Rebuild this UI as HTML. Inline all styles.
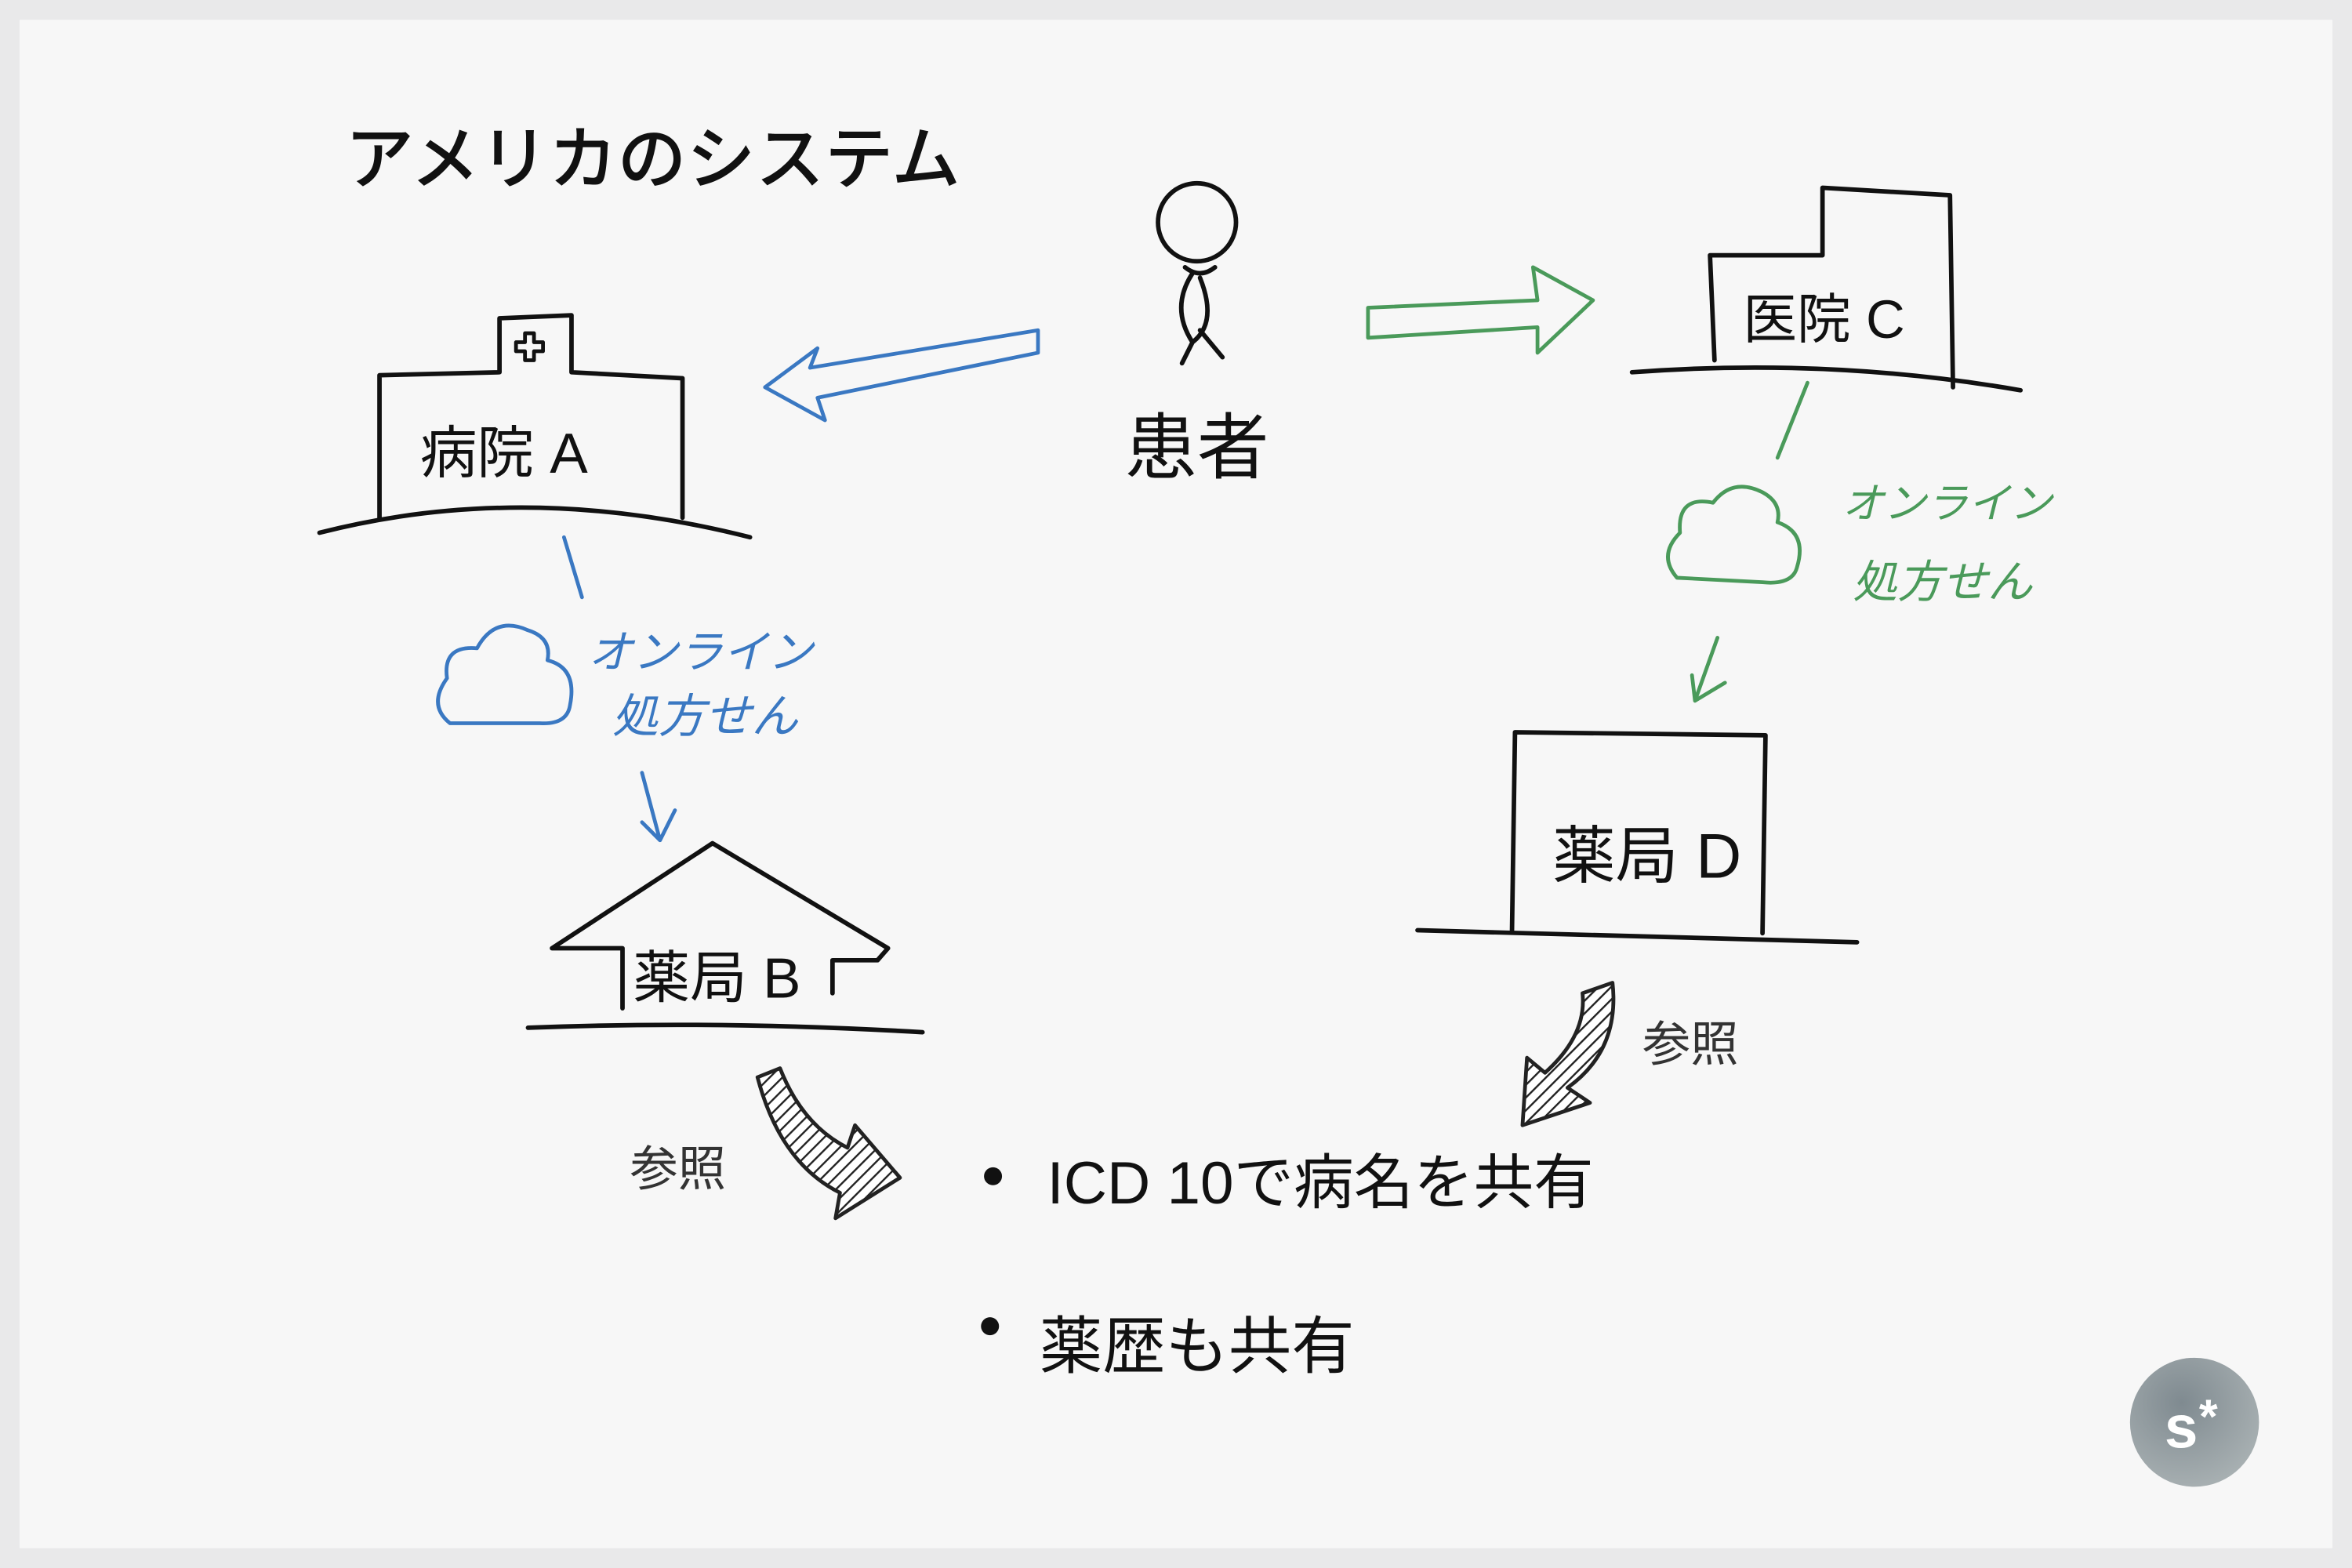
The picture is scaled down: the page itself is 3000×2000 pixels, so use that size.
<!DOCTYPE html>
<html><head><meta charset="utf-8"><style>
html,body{margin:0;padding:0;background:#e9e9ea;}
svg{display:block;}
text{font-family:"Liberation Sans","Noto Sans CJK JP",sans-serif;}
</style></head><body>
<svg width="3000" height="2000" viewBox="0 0 1568 1045" xmlns="http://www.w3.org/2000/svg">
<defs>
<pattern id="h" width="6" height="6" patternUnits="userSpaceOnUse" patternTransform="rotate(45)"><rect width="6" height="6" fill="#fff"/><line x1="0" y1="0" x2="0" y2="6" stroke="#222" stroke-width="2.5"/></pattern>
<radialGradient id="g" cx="0.4" cy="0.35" r="0.7"><stop offset="0" stop-color="#7f8a90"/><stop offset="1" stop-color="#a9b1b3"/></radialGradient>
</defs>
<rect width="1568" height="1045" fill="#e9e9ea"/>
<rect x="13" y="13" width="1542" height="1019" fill="#f7f7f7"/>
<text x="230" y="122" font-size="46" font-weight="500" fill="#111">アメリカのシステム</text>
<g fill="none" stroke="#111" stroke-width="3" stroke-linecap="round" stroke-linejoin="round">
<circle cx="798" cy="148" r="26"/>
<path d="M790 178 Q800 186 810 178 M795 182 Q780 205 795 228 Q812 215 800 185 M795 228 L788 242 M800 220 L815 238"/>
<path d="M253 345 L253 250 L333 248 L333 212 L381 210 L381 248 L455 252 L455 345"/>
<path d="M350 222 h6 v6 h6 v6 h-6 v6 h-6 v-6 h-6 v-6 h6 z" stroke-width="2.5"/>
<path d="M213 355 Q350 320 500 358"/>
<path d="M1143 240 L1140 170 L1215 170 L1215 125 L1300 130 L1302 258"/>
<path d="M1088 248 Q1220 238 1347 260"/>
<path d="M368 632 L475 562 L592 632 L585 640 L555 640 M368 632 L415 632 L415 672 M555 640 L555 662"/>
<path d="M352 685 Q480 680 615 688"/>
<path d="M1008 620 L1010 488 L1177 490 L1175 622"/>
<path d="M945 620 L1238 628"/>
</g>
<g fill="none" stroke="#3a78c2" stroke-width="2.5" stroke-linecap="round" stroke-linejoin="round">
<path d="M692 220 L540 245 L545 232 L510 258 L550 280 L545 265 L692 235 Z"/>
<path d="M376 358 L388 398"/>
<path d="M300 482 Q285 470 298 452 Q295 430 318 432 Q330 410 352 420 Q368 425 365 440 Q385 445 380 470 Q378 483 360 482 Z"/>
<path d="M428 515 L440 560 M428 548 L440 560 L450 540"/>
</g>
<text x="392" y="445" font-size="30" fill="#3a78c2" font-style="italic">オンライン</text>
<text x="408" y="488" font-size="31" fill="#3a78c2" font-style="italic">処方せん</text>
<g fill="none" stroke="#4a9a5a" stroke-width="2.5" stroke-linecap="round" stroke-linejoin="round">
<path d="M912 205 L1025 200 L1022 178 L1062 200 L1025 235 L1025 218 L912 225 Z"/>
<path d="M1205 255 L1185 305"/>
<path d="M1118 385 Q1105 370 1120 355 Q1118 330 1142 335 Q1155 318 1175 328 Q1188 335 1185 348 Q1205 355 1198 378 Q1195 390 1175 388 Z"/>
<path d="M1145 425 L1130 467 M1128 450 L1130 467 L1150 455"/>
</g>
<text x="1228" y="345" font-size="28" fill="#4a9a5a" font-style="italic">オンライン</text>
<text x="1235" y="398" font-size="30" fill="#4a9a5a" font-style="italic">処方せん</text>
<g fill="#111">
<text x="750" y="315" font-size="48">患者</text>
<text x="280" y="315" font-size="38">病院 A</text>
<text x="1162" y="225" font-size="36">医院 C</text>
<text x="422" y="665" font-size="38">薬局 B</text>
<text x="1035" y="585" font-size="42">薬局 D</text>
<text x="420" y="790" font-size="32" fill="#333">参照</text>
<text x="1095" y="707" font-size="32" fill="#333">参照</text>
<circle cx="662" cy="784" r="6"/>
<text x="698" y="802" font-size="40">ICD 10で病名を共有</text>
<circle cx="660" cy="884" r="6"/>
<text x="693" y="912" font-size="42">薬歴も共有</text>
</g>
<path d="M505 718 L520 712 Q535 750 565 765 L570 750 L600 785 L557 812 L560 795 Q520 775 505 718 Z" fill="url(#h)" stroke="#222" stroke-width="2.5" stroke-linejoin="round"/>
<path d="M1055 662 L1075 655 Q1080 700 1045 725 L1060 735 L1015 750 L1018 705 L1030 715 Q1058 690 1055 662 Z" fill="url(#h)" stroke="#222" stroke-width="2.5" stroke-linejoin="round"/>
<circle cx="1463" cy="948" r="43" fill="url(#g)"/>
<text x="1443" y="965" font-size="40" font-weight="bold" fill="#fff">s</text>
<text x="1466" y="955" font-size="32" font-weight="bold" fill="#fff">*</text>
</svg>
</body></html>
